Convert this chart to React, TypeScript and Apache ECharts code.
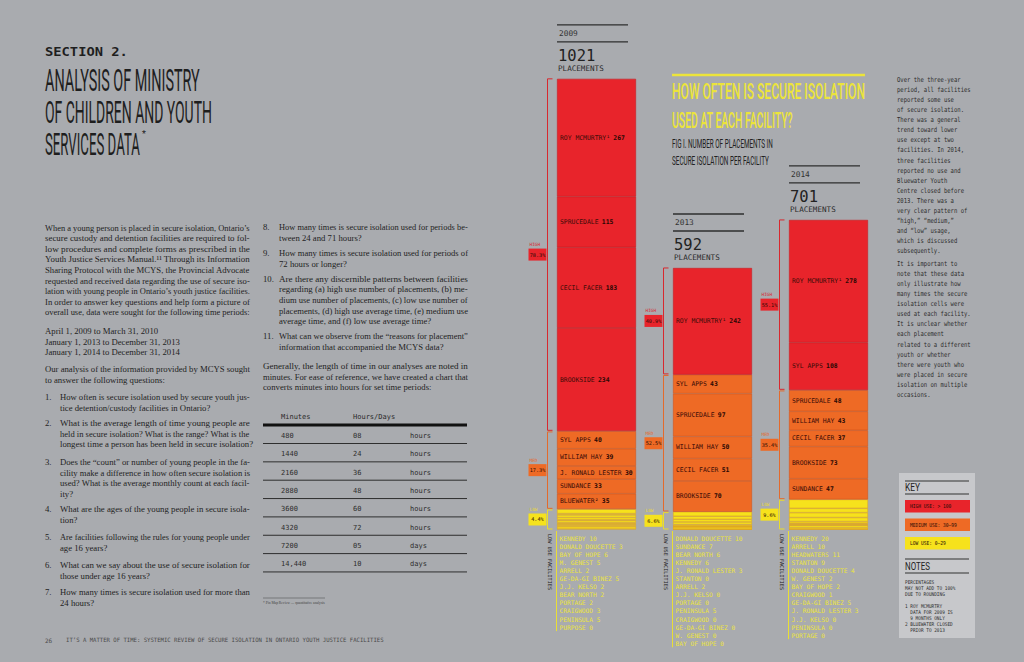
import React, { useEffect, useRef } from 'react';
import * as echarts from 'echarts';

// ---------------- data ----------------
const years = ['2009', '2013', '2014'];

const high2009Names = ['ROY MCMURTRY¹', 'SPRUCEDALE', 'CECIL FACER', 'BROOKSIDE'];
const high2009Values = [267, 115, 183, 234];
const med2009Names = ['SYL APPS', 'WILLIAM HAY', 'J. RONALD LESTER', 'SUNDANCE', 'BLUEWATER²'];
const med2009Values = [40, 39, 30, 33, 35];
const low2009Names = ['KENNEDY', 'DONALD DOUCETTE', 'BAY OF HOPE', 'M. GENEST', 'ARRELL', 'GE-DA-GI BINEZ', 'J.J. KELSO', 'BEAR NORTH', 'PORTAGE', 'CRAIGWOOD', 'PENINSULA', 'PURPOSE'];
const low2009Values = [10, 3, 6, 5, 2, 5, 2, 2, 2, 3, 5, 0];

const high2013Names = ['ROY MCMURTRY¹'];
const high2013Values = [242];
const med2013Names = ['SYL APPS', 'SPRUCEDALE', 'WILLIAM HAY', 'CECIL FACER', 'BROOKSIDE'];
const med2013Values = [43, 97, 50, 51, 70];
const low2013Names = ['DONALD DOUCETTE', 'SUNDANCE', 'BEAR NORTH', 'KENNEDY', 'J. RONALD LESTER', 'STANTON', 'ARRELL', 'J.J. KELSO', 'PORTAGE', 'PENINSULA', 'CRAIGWOOD', 'GE-DA-GI BINEZ', 'W. GENEST', 'BAY OF HOPE'];
const low2013Values = [10, 7, 6, 6, 3, 0, 2, 0, 0, 5, 0, 0, 0, 0];

const high2014Names = ['ROY MCMURTRY¹', 'SYL APPS'];
const high2014Values = [278, 108];
const med2014Names = ['SPRUCEDALE', 'WILLIAM HAY', 'CECIL FACER', 'BROOKSIDE', 'SUNDANCE'];
const med2014Values = [48, 43, 37, 73, 47];
const low2014Names = ['KENNEDY', 'ARRELL', 'HEADWATERS', 'STANTON', 'DONALD DOUCETTE', 'W. GENEST', 'BAY OF HOPE', 'CRAIGWOOD', 'GE-DA-GI BINEZ', 'J. RONALD LESTER', 'J.J. KELSO', 'PENINSULA', 'PORTAGE'];
const low2014Values = [20, 10, 11, 9, 4, 2, 2, 1, 5, 3, 0, 0, 0];

const tableMinutes = ['480', '1440', '2160', '2880', '3600', '4320', '7200', '14,440'];
const tableAmounts = ['08', '24', '36', '48', '60', '72', '05', '10'];
const tableUnits = ['hours', 'hours', 'hours', 'hours', 'hours', 'hours', 'days', 'days'];

const keyLabels = ['HIGH USE: > 100', 'MEDIUM USE: 30–99', 'LOW USE: 0–29'];
const tierTags = ['HIGH', 'MED', 'LOW'];

// ---------------- text content ----------------
const leftP1 = [
  'When a young person is placed in secure isolation, Ontario’s',
  'secure custody and detention facilities are required to fol-',
  'low procedures and complete forms as prescribed in the',
  'Youth Justice Services Manual.¹¹ Through its Information',
  'Sharing Protocol with the MCYS, the Provincial Advocate',
  'requested and received data regarding the use of secure iso-',
  'lation with young people in Ontario’s youth justice facilities.',
  'In order to answer key questions and help form a picture of',
  'overall use, data were sought for the following time periods:',
];
const leftDates = [
  'April 1, 2009 to March 31, 2010',
  'January 1, 2013 to December 31, 2013',
  'January 1, 2014 to December 31, 2014',
];
const leftP2 = ['Our analysis of the information provided by MCYS sought', 'to answer the following questions:'];
const leftItems: [string, string[]][] = [
  ['1.', ['How often is secure isolation used by secure youth jus-', 'tice detention/custody facilities in Ontario?']],
  ['2.', ['What is the average length of time young people are', 'held in secure isolation? What is the range? What is the', 'longest time a person has been held in secure isolation?']],
  ['3.', ['Does the “count” or number of young people in the fa-', 'cility make a difference in how often secure isolation is', 'used? What is the average monthly count at each facil-', 'ity?']],
  ['4.', ['What are the ages of the young people in secure isola-', 'tion?']],
  ['5.', ['Are facilities following the rules for young people under', 'age 16 years?']],
  ['6.', ['What can we say about the use of secure isolation for', 'those under age 16 years?']],
  ['7.', ['How many times is secure isolation used for more than', '24 hours?']],
];
const leftItemY = [397, 423, 462, 509, 537, 565, 592];
const midItems: [string, string[]][] = [
  ['8.', ['How many times is secure isolation used for periods be-', 'tween 24 and 71 hours?']],
  ['9.', ['How many times is secure isolation used for periods of', '72 hours or longer?']],
  ['10.', ['Are there any discernible patterns between facilities', 'regarding (a) high use number of placements, (b) me-', 'dium use number of placements, (c) low use number of', 'placements, (d) high use average time, (e) medium use', 'average time, and (f) low use average time?']],
  ['11.', ['What can we observe from the “reasons for placement”', 'information that accompanied the MCYS data?']],
];
const midItemY = [227, 253, 279, 336];
const midP = [
  'Generally, the length of time in our analyses are noted in',
  'minutes. For ease of reference, we have created a chart that',
  'converts minutes into hours for set time periods:',
];
const rightP1 = ['Over the three-year', 'period, all facilities', 'reported some use', 'of secure isolation.', 'There was a general', 'trend toward lower', 'use except at two', 'facilities. In 2014,', 'three facilities', 'reported no use and', 'Bluewater Youth', 'Centre closed before', '2013. There was a', 'very clear pattern of', '“high,” “medium,”', 'and “low” usage,', 'which is discussed', 'subsequently.'];
const rightP2 = ['It is important to', 'note that these data', 'only illustrate how', 'many times the secure', 'isolation cells were', 'used at each facility.', 'It is unclear whether', 'each placement', 'related to a different', 'youth or whether', 'there were youth who', 'were placed in secure', 'isolation on multiple', 'occasions.'];
const notesLines = ['PERCENTAGES', 'MAY NOT ADD TO 100%', 'DUE TO ROUNDING', '', '1 ROY MCMURTRY', '  DATA FOR 2009 IS', '  9 MONTHS ONLY', '2 BLUEWATER CLOSED', '  PRIOR TO 2013'];

// ---------------- style ----------------
const BG = '#a9abaf';
const RED = '#e8242b';
const ORANGE = '#ee6a25';
const YELLOW = '#f6e21c';
const TIER_COLORS = [RED, ORANGE, YELLOW];
const TIER_BORDERS = ['#c81c22', '#d4561c', '#e0a821'];
const TIER_LINES = ['#d8282e', '#e36a2c', '#e9dc2c'];
const DARK = '#1e1e1e';
const MONO = '"DejaVu Sans Mono", "Liberation Mono", monospace';
const SERIF = '"Liberation Serif", "DejaVu Serif", serif';
const COND = 'Roboto, "DejaVu Sans", sans-serif';
const BODY_SIZE = 8.8;

const yearData = [
  { high: [high2009Names, high2009Values], med: [med2009Names, med2009Values], low: [low2009Names, low2009Values] },
  { high: [high2013Names, high2013Values], med: [med2013Names, med2013Values], low: [low2013Names, low2013Values] },
  { high: [high2014Names, high2014Values], med: [med2014Names, med2014Values], low: [low2014Names, low2014Values] },
] as { high: [string[], number[]]; med: [string[], number[]]; low: [string[], number[]] }[];

const sum = (a: number[]) => a.reduce((s, v) => s + v, 0);

let mctx: CanvasRenderingContext2D | null = null;
function mw(text: string, size: number, family: string, weight = 'normal') {
  if (!mctx) mctx = document.createElement('canvas').getContext('2d');
  mctx!.font = `${weight} ${size}px ${family}`;
  return mctx!.measureText(text).width || 1;
}

type TOpt = { size: number; family: string; weight?: string; fill: string; align?: string; vAlign?: string; scaleX?: number; fitW?: number; rotation?: number };
function T(x: number, y: number, text: string, o: TOpt) {
  let sx = o.scaleX ?? 1;
  if (o.fitW) sx = o.fitW / mw(text, o.size, o.family, o.weight);
  return {
    type: 'text', x, y, scaleX: sx, rotation: o.rotation ?? 0, silent: true,
    style: {
      text, fill: o.fill, fontSize: o.size, fontFamily: o.family, fontWeight: o.weight ?? 'normal',
      align: o.align ?? 'left', verticalAlign: o.vAlign ?? 'middle',
      textAlign: o.align ?? 'left', textVerticalAlign: o.vAlign ?? 'middle',
    },
  };
}
function L(x1: number, y1: number, x2: number, y2: number, stroke: string, lineWidth = 1) {
  return { type: 'line', silent: true, shape: { x1, y1, x2, y2 }, style: { stroke, lineWidth } };
}
function R(x: number, y: number, width: number, height: number, fill: string) {
  return { type: 'rect', silent: true, shape: { x, y, width, height }, style: { fill } };
}

function buildSeries() {
  const series: any[] = [];
  yearData.forEach((d, yi) => {
    const segs: { name: string; value: number; tier: number }[] = [];
    (['high', 'med', 'low'] as const).forEach((k, ti) => {
      d[k][0].forEach((n, j) => segs.push({ name: n, value: d[k][1][j], tier: ti }));
    });
    segs.reverse().forEach((s) => {
      series.push({
        type: 'bar', stack: 'total', barWidth: 79, silent: true,
        data: years.map((_, k) => (k === yi ? s.value : '-')),
        itemStyle: { color: TIER_COLORS[s.tier], borderColor: TIER_BORDERS[s.tier], borderWidth: 0.6 },
        label: s.tier < 2 ? {
          show: true, position: 'insideLeft', distance: 3,
          formatter: () => `{n|${s.name}} {v|${s.value}}`,
          rich: {
            n: { fontFamily: MONO, fontSize: 6.4, color: '#3a0c08' },
            v: { fontFamily: MONO, fontSize: 6.4, fontWeight: 'bold', color: '#2a0804' },
          },
        } : { show: false },
      });
    });
  });
  return series;
}

// mode: 'all' justify every line, 'body' justify all but last, 'none' justify none
function para(g: any[], lines: string[], x: number, y: number, w: number, base: number, mode: 'all' | 'body' | 'none', pitch = 10.5) {
  lines.forEach((ln, i) => {
    const nat = mw(ln, BODY_SIZE, SERIF);
    let sx = base;
    const isLast = i === lines.length - 1;
    const justify = mode === 'all' || (mode === 'body' && !isLast);
    if (justify) sx = Math.min(base * 1.15, Math.max(base * 0.85, w / nat));
    g.push(T(x, y + i * pitch, ln, { size: BODY_SIZE, family: SERIF, fill: '#232323', scaleX: sx }));
  });
}

function buildGraphics(chart: echarts.ECharts) {
  const g: any[] = [];
  const px = (i: number, v: number) => chart.convertToPixel({ xAxisIndex: 0, yAxisIndex: 0 }, [i, v]) as number[];

  // ---- left heading ----
  g.push(T(45, 52, 'SECTION 2.', { size: 12, family: MONO, weight: 'bold', fill: DARK, fitW: 83 }));
  const titleLines = ['ANALYSIS OF MINISTRY', 'OF CHILDREN AND YOUTH', 'SERVICES DATA'];
  const titleW = [155, 167, 95];
  titleLines.forEach((t, i) => g.push(T(45, 80 + i * 32, t, { size: 32, family: COND, fill: DARK, fitW: titleW[i] })));
  g.push(T(142, 134, '*', { size: 9, family: COND, fill: DARK }));

  // ---- body text ----
  const base = leftP1.reduce((s, l) => s + 205 / mw(l, BODY_SIZE, SERIF), 0) / leftP1.length;
  para(g, leftP1, 45, 228, 205, base, 'all');
  para(g, leftDates, 45, 331, 205, base, 'none');
  para(g, leftP2, 45, 369, 205, base, 'body');
  leftItems.forEach(([num, lines], i) => {
    g.push(T(45, leftItemY[i], num, { size: BODY_SIZE, family: SERIF, fill: '#232323', scaleX: base }));
    para(g, lines, 60, leftItemY[i], 190, base, 'body');
  });
  midItems.forEach(([num, lines], i) => {
    g.push(T(263, midItemY[i], num, { size: BODY_SIZE, family: SERIF, fill: '#232323', scaleX: base }));
    para(g, lines, 279, midItemY[i], 189, base, 'body');
  });
  para(g, midP, 263, 366, 205, base, 'body');

  // ---- table ----
  const tcol = [281, 353, 410];
  g.push(T(tcol[0], 417, 'Minutes', { size: 7, family: MONO, fill: '#2a2a2a' }));
  g.push(T(tcol[1], 417, 'Hours/Days', { size: 7, family: MONO, fill: '#2a2a2a' }));
  g.push(L(263, 425, 467, 425, '#111', 2.8));
  tableMinutes.forEach((m, i) => {
    const y = 436 + i * 18.35;
    g.push(T(tcol[0], y, m, { size: 7, family: MONO, fill: '#2e2e2e' }));
    g.push(T(tcol[1], y, tableAmounts[i], { size: 7, family: MONO, fill: '#2e2e2e' }));
    g.push(T(tcol[2], y, tableUnits[i], { size: 7, family: MONO, fill: '#2e2e2e' }));
    g.push(L(263, y + 7.5, 467, y + 7.5, '#2e2e2e', 1));
  });
  g.push(L(263, 598, 325, 598, '#555', 0.6));
  g.push(T(263, 603, '* Pin Map Review — quantitative analysis', { size: 3.6, family: SERIF, fill: '#444' }));

  // ---- footer ----
  g.push(T(45, 640, '26', { size: 6, family: MONO, fill: '#4a4a4a' }));
  g.push(T(66, 640, 'IT’S A MATTER OF TIME: SYSTEMIC REVIEW OF SECURE ISOLATION IN ONTARIO YOUTH JUSTICE FACILITIES', { size: 6, family: MONO, fill: '#4a4a4a', fitW: 319 }));

  // ---- chart heading ----
  g.push(L(672, 75, 865, 75, '#ece43a', 2.5));
  g.push(T(672, 92, 'HOW OFTEN IS SECURE ISOLATION', { size: 22, family: COND, weight: '500', fill: '#ece43a', fitW: 193 }));
  g.push(T(672, 120, 'USED AT EACH FACILITY?', { size: 22, family: COND, weight: '500', fill: '#ece43a', fitW: 121 }));
  g.push(T(672, 144, 'FIG I. NUMBER OF PLACEMENTS IN', { size: 13.5, family: COND, fill: '#222', fitW: 101 }));
  g.push(T(672, 161, 'SECURE ISOLATION PER FACILITY', { size: 13.5, family: COND, fill: '#222', fitW: 97 }));

  // ---- per-year decorations ----
  yearData.forEach((d, yi) => {
    const sH = sum(d.high[1]);
    const sM = sum(d.med[1]);
    const sL = sum(d.low[1]);
    const total = sH + sM + sL;
    const [cx, y0] = px(yi, 0);
    const yL = px(yi, sL)[1];
    const yM = px(yi, sL + sM)[1];
    const yT = px(yi, total)[1];
    const bl = cx - 39.5;

    g.push(L(bl, yT - 54, bl + 71, yT - 54, '#2e2e2e', 1.4));
    g.push(L(bl, yT - 37, bl + 71, yT - 37, '#2e2e2e', 1.4));
    g.push(T(bl + 2, yT - 45.5, years[yi], { size: 7.8, family: MONO, fill: '#333' }));
    g.push(T(bl + 1, yT - 23, String(total), { size: 15.5, family: MONO, fill: '#222' }));
    g.push(T(bl + 1, yT - 10, 'PLACEMENTS', { size: 7.6, family: MONO, fill: '#2a2a2a' }));

    const bx = bl - 9.5;
    const spans = [[yT, yM - 0.8], [yM + 0.8, yL - 0.8], [yL + 0.8, y0]];
    const vals = [sH, sM, sL];
    spans.forEach(([a, b], ti) => {
      g.push({ type: 'polyline', silent: true, shape: { points: [[bx + 5, a], [bx, a], [bx, b], [bx + 5, b]] }, style: { stroke: TIER_LINES[ti], lineWidth: 1, fill: 'none' } });
      const mid = (a + b) / 2;
      const bw = 18, bh = 12;
      g.push(R(bx - 1 - bw, mid - bh / 2, bw, bh, TIER_COLORS[ti]));
      g.push(T(bx - 1 - bw / 2, mid, `${((vals[ti] / total) * 100).toFixed(1)}%`, { size: 5.2, family: MONO, fill: '#2a0a06', align: 'center' }));
      g.push(T(bx - bw, mid - bh / 2 - 4, tierTags[ti], { size: 4.4, family: MONO, fill: TIER_LINES[ti] }));
    });

    // low use list
    const names = d.low[0];
    const lv = d.low[1];
    const step = 8.1;
    names.forEach((n, k) => {
      g.push(T(bl + 2.5, y0 + 9 + k * step, `${n} ${lv[k]}`, { size: 6.2, family: MONO, fill: '#ebe33c' }));
    });
    g.push(L(bl - 0.5, y0 + 2, bl - 0.5, y0 + 9 + (names.length - 1) * step + 4, '#e9df34', 1));
    g.push(T(bx + 2, y0 + 33, 'LOW USE FACILITIES', { size: 5.2, family: MONO, fill: '#222', align: 'center', rotation: -Math.PI / 2 }));
  });

  // ---- right paragraph ----
  const rScale = 0.82;
  rightP1.forEach((ln, i) => g.push(T(897, 79 + i * 10.1, ln, { size: 6.8, family: MONO, fill: '#2c2c2c', scaleX: rScale })));
  rightP2.forEach((ln, i) => g.push(T(897, 263 + i * 10.1, ln, { size: 6.8, family: MONO, fill: '#2c2c2c', scaleX: rScale })));

  // ---- key box ----
  g.push(R(899, 473, 76, 165, '#c7c8cb'));
  g.push(L(905, 481, 969, 481, '#333', 1.2));
  g.push(T(905, 487.5, 'KEY', { size: 10, family: COND, fill: '#222', fitW: 15 }));
  g.push(L(905, 494, 969, 494, '#333', 1.2));
  const keyY = [500, 518.5, 537];
  keyLabels.forEach((k, i) => {
    g.push(R(905, keyY[i], 65, 12.5, TIER_COLORS[i]));
    g.push(T(910, keyY[i] + 6.3, k, { size: 5.4, family: MONO, fill: '#2a0a06', scaleX: 0.85 }));
  });
  g.push(L(905, 559, 969, 559, '#333', 1.2));
  g.push(T(905, 566.5, 'NOTES', { size: 10, family: COND, fill: '#222', fitW: 25 }));
  g.push(L(905, 573, 969, 573, '#333', 1.2));
  notesLines.forEach((ln, i) => {
    if (!ln) return;
    g.push(T(905, 582 + i * 6.1, ln, { size: 5.2, family: MONO, fill: '#2c2c2c', scaleX: 0.85 }));
  });
  return g;
}

export default function App() {
  const ref = useRef<HTMLDivElement>(null);
  useEffect(() => {
    document.body.style.margin = '0';
    const chart = echarts.init(ref.current!, undefined, { renderer: 'svg' });
    chart.setOption({
      animation: false,
      backgroundColor: BG,
      grid: { left: 538.5, top: 44, width: 348, height: 485, containLabel: false },
      xAxis: { type: 'category', data: years, show: false },
      yAxis: { type: 'value', min: 0, max: 1100, show: false, splitLine: { show: false } },
      series: buildSeries(),
    });
    chart.setOption({ graphic: buildGraphics(chart) });
    return () => chart.dispose();
  }, []);
  return <div ref={ref} style={{ width: 1024, height: 662 }} />;
}
